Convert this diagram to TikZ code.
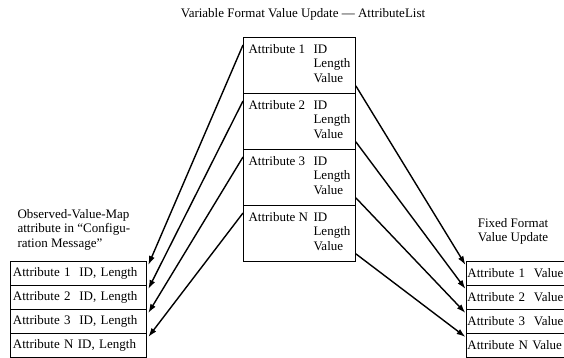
\documentclass[tikz,border=0pt]{standalone}
\usepackage{fontspec}
\setmainfont{Liberation Serif}
\usetikzlibrary{arrows.meta}
\newcommand{\vafields}[1]{\begin{tabular}[t]{@{}p{65pt}@{}l@{}}#1&ID\\&Length\\&Value\end{tabular}}

\begin{document}
\begin{tikzpicture}[x=1pt,y=-1pt,font=\fontsize{13}{14.5}\selectfont,
  rowbox/.style={draw,line width=0.8pt,anchor=north west,inner sep=0pt},
  vabox/.style={rowbox,minimum width=112pt,minimum height=56pt},
  ovbox/.style={rowbox,minimum height=24pt,text width=130pt,inner xsep=3pt,align=left},
  ffbox/.style={rowbox,minimum height=24pt,text width=130pt,inner xsep=1.5pt,align=left},
  map/.style={line width=1.4pt,-{Latex[length=9pt,width=6pt]}}]
\path[use as bounding box,clip] (0,0) rectangle (564,357);

\node[anchor=base] (title) at (303,17) {Variable Format Value Update --- AttributeList};

\node[vabox] (va1) at (243,37)  {};
\node[vabox] (va2) at (243,93)  {};
\node[vabox] (va3) at (243,149) {};
\node[vabox] (vaN) at (243,205) {};
\node[anchor=base west] (va1t) at ([xshift=2pt,yshift=-16pt]va1.north west) {\vafields{Attribute 1}};
\node[anchor=base west] (va2t) at ([xshift=2pt,yshift=-16pt]va2.north west) {\vafields{Attribute 2}};
\node[anchor=base west] (va3t) at ([xshift=2pt,yshift=-16pt]va3.north west) {\vafields{Attribute 3}};
\node[anchor=base west] (vaNt) at ([xshift=2pt,yshift=-16pt]vaN.north west) {\vafields{Attribute N}};

\node[anchor=base west] (ovcap) at (14,218)
  {\begin{tabular}[t]{@{}l@{}}Observed-Value-Map\\attribute in “Configu-\\ration Message”\end{tabular}};
\node[ovbox] (ov1) at (9.5,261) {Attribute 1\ \ ID, Length};
\node[ovbox] (ov2) at (9.5,285) {Attribute 2\ \ ID, Length};
\node[ovbox] (ov3) at (9.5,309) {Attribute 3\ \ ID, Length};
\node[ovbox] (ovN) at (9.5,333) {Attribute N ID, Length};

\node[anchor=base] (ffcap) at (513,227)
  {\begin{tabular}[t]{@{}c@{}}Fixed Format\\Value Update\end{tabular}};
\node[ffbox] (ff1) at (465.5,261) {Attribute 1\ \ Value};
\node[ffbox] (ff2) at (465.5,285) {Attribute 2\ \ Value};
\node[ffbox] (ff3) at (465.5,309) {Attribute 3\ \ Value};
\node[ffbox] (ffN) at (465.5,333) {Attribute N Value};

\draw[map] ([yshift=-8pt]va1.north west) -- ([xshift=2pt,yshift=-4pt]ov1.north east);
\draw[map] ([yshift=-8pt]va2.north west) -- ([xshift=2pt,yshift=-4pt]ov2.north east);
\draw[map] ([yshift=-8pt]va3.north west) -- ([xshift=2pt,yshift=-4pt]ov3.north east);
\draw[map] ([yshift=-8pt]vaN.north west) -- ([xshift=2pt,yshift=-4pt]ovN.north east);
\draw[map] ([yshift=8pt]va1.south east) -- ([yshift=-4pt]ff1.north west);
\draw[map] ([yshift=8pt]va2.south east) -- ([yshift=-4pt]ff2.north west);
\draw[map] ([yshift=8pt]va3.south east) -- ([yshift=-4pt]ff3.north west);
\draw[map] ([yshift=8pt]vaN.south east) -- ([yshift=-4pt]ffN.north west);
\end{tikzpicture}
\end{document}
